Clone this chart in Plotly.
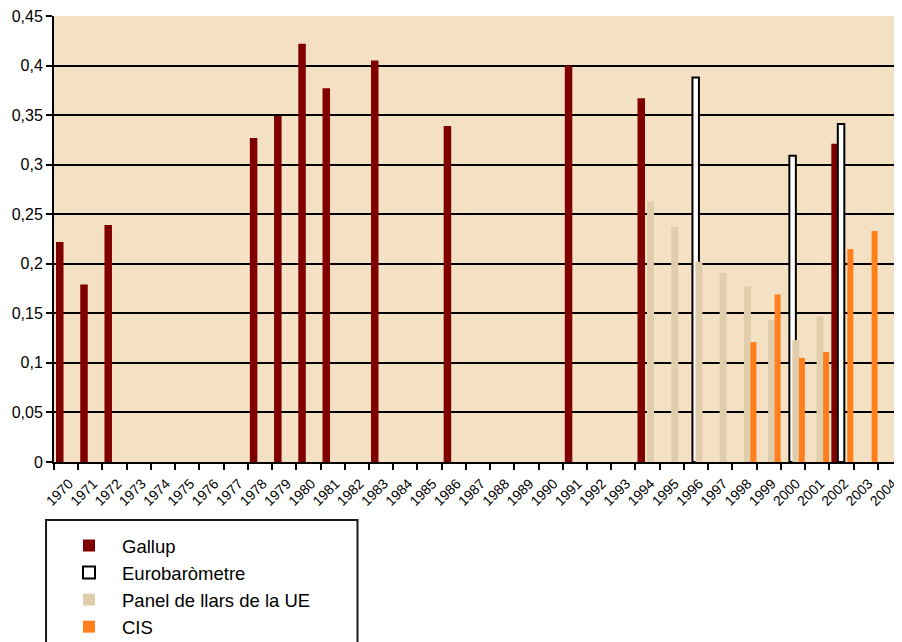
import plotly.graph_objects as go

# ---- data ----
years = [str(y) for y in range(1970, 2005)]

gallup_years = ["1970", "1971", "1972", "1978", "1979", "1980", "1981", "1983", "1986", "1991", "1994", "2002"]
gallup_values = [0.222, 0.179, 0.239, 0.327, 0.349, 0.422, 0.377, 0.405, 0.339, 0.400, 0.367, 0.321]

euro_years = ["1996", "2000", "2002"]
euro_values = [0.388, 0.309, 0.341]

panel_years = ["1994", "1995", "1996", "1997", "1998", "1999", "2000", "2001"]
panel_values = [0.263, 0.237, 0.202, 0.191, 0.177, 0.143, 0.123, 0.147]

cis_years = ["1998", "1999", "2000", "2001", "2002", "2003"]
cis_values = [0.121, 0.169, 0.105, 0.111, 0.215, 0.233]

series_names = ["Gallup", "Eurobaròmetre", "Panel de llars de la UE", "CIS"]

FONT = "Liberation Sans, Arial, sans-serif"

fig = go.Figure()
fig.add_trace(go.Bar(name=series_names[0], x=gallup_years, y=gallup_values,
                     marker=dict(color="#800000", line=dict(width=0)),
                     offset=-0.417, width=0.31))
fig.add_trace(go.Bar(name=series_names[1], x=euro_years, y=euro_values,
                     marker=dict(color="#FFFFFF", line=dict(color="#000000", width=2)),
                     offset=-0.149, width=0.268))
fig.add_trace(go.Bar(name=series_names[2], x=panel_years, y=panel_values,
                     marker=dict(color="#E0CDAB", line=dict(width=0)),
                     offset=-0.025, width=0.289))
fig.add_trace(go.Bar(name=series_names[3], x=cis_years, y=cis_values,
                     marker=dict(color="#FF7F1C", line=dict(width=0)),
                     offset=0.243, width=0.248))

# page body adds an 8px offset, so the figure is 8px smaller than the window
fig.update_layout(
    width=894, height=634,
    margin=dict(l=46, r=0, t=8, b=180, autoexpand=False),
    paper_bgcolor="#FFFFFF",
    plot_bgcolor="#F4E1C3",
    separators=", ",
    barmode="overlay",
    font=dict(family=FONT, color="#000000"),
    showlegend=True,
    legend=dict(
        x=0.00236, y=-0.1457, xanchor="left", yanchor="top",
        bgcolor="rgba(0,0,0,0)", borderwidth=0,
        font=dict(family=FONT, size=18.5, color="#000000"),
        itemwidth=56, traceorder="normal",
    ),
    shapes=[dict(type="rect", xref="paper", yref="paper",
                 x0=-0.0094, x1=0.3579, y0=-0.45, y1=-0.130,
                 line=dict(color="#1A1A1A", width=2), fillcolor="rgba(0,0,0,0)",
                 layer="above")],
)

fig.update_xaxes(
    type="category", categoryorder="array", categoryarray=years,
    range=[-0.5, len(years) - 0.5],
    tickmode="linear", tick0=0, dtick=1,
    tickson="boundaries", ticks="outside", ticklen=6, tickwidth=1.5, tickcolor="#000000",
    tickangle=-45, tickfont=dict(family=FONT, size=14, color="#000000"),
    ticklabelstandoff=6, ticklabelshift=3,
    showgrid=False, showline=True, linecolor="#000000", linewidth=2,
    zeroline=False,
)
fig.update_yaxes(
    range=[0, 0.45], tickmode="linear", tick0=0, dtick=0.05,
    ticks="outside", ticklen=6, tickwidth=1.5, tickcolor="#000000",
    tickfont=dict(family=FONT, size=16, color="#000000"),
    ticklabeloverflow="allow",
    showgrid=True, gridcolor="#000000", gridwidth=1.5,
    showline=True, linecolor="#000000", linewidth=2,
    zeroline=False,
)

fig.write_html("out.html")
